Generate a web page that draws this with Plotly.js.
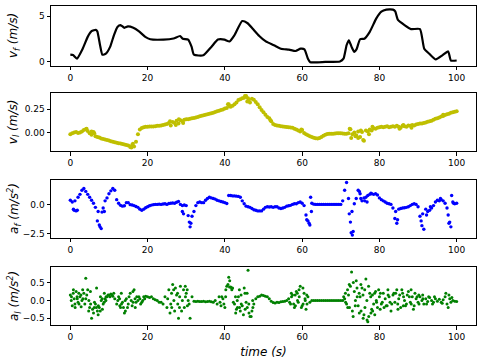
<!DOCTYPE html>
<html>
<head>
<meta charset="utf-8">
<script src="https://cdn.plot.ly/plotly-3.0.1.min.js"></script>
<style>
  body { margin: 0; background: #fff; }
  #chart { width: 485px; height: 361px; }
</style>
</head>
<body>
<div id="chart"></div>
<script>
// forward speed
var vfTime = [0, 0.7, 1.7, 3.2, 4.5, 5.5, 6.6, 7.0, 7.7, 8.3, 9.2, 10.3, 11.3, 12.2, 13.0, 14.0, 14.9, 16.3, 17.7, 19.4,
    20.7, 24.1, 26.7, 28.4, 29.1, 30.5, 31.4, 32.0, 34.4, 36.5, 38.2, 39.9, 41.2, 42.5, 44.5, 45.9, 47.2, 48.9, 50.6, 52.7,
    54.5, 56.6, 58.3, 59.6, 60.6, 61.5, 62.1, 66, 69.8, 70.7, 71.5, 72.1, 72.8, 73.5, 74.1, 75.0, 76.1, 77.5, 79.2, 80.5,
    81.8, 83.5, 84.1, 84.8, 86.5, 88.2, 90.5, 91.6, 92.9, 94.6, 96.3, 97.8, 98.5, 100];
var vfVal = [0.74, 0.7, 0.3, 1.4, 2.7, 3.33, 3.48, 3.3, 1.78, 0.74, 0.85, 1.6, 2.9, 3.8, 4.0, 3.7, 3.85, 3.7, 3.33, 2.7,
    2.44, 2.4, 2.52, 2.8, 2.5, 2.4, 1.6, 0.74, 0.67, 1.6, 2.4, 2.4, 2.2, 2.9, 4.44, 4.2, 3.6, 2.8, 2.2, 1.78,
    1.4, 1.3, 1.15, 1.4, 1.33, 0.3, -0.08, -0.05, 0.0, 0.3, 1.78, 2.33, 1.6, 1.05, 1.35, 2.44, 2.5, 3.26, 4.74, 5.48,
    5.7, 5.7, 5.5, 4.56, 4.0, 3.56, 3.56, 1.4, 0.85, 0.22, 0.67, 1.1, 0.1, 0.1];

// sample times for the scatter panels
var sampleTime = [
    0, 0.5, 1, 1.5, 2, 2.5, 3, 3.5, 4, 4.5, 5, 5.5, 6, 6.5, 7, 7.5, 8, 8.5, 9, 9.5,
    10, 10.5, 11, 11.5, 12, 12.5, 13, 13.5, 14, 14.5, 15, 15.5, 16, 16.5, 17, 17.5, 18, 18.5, 19, 19.5,
    20, 20.5, 21, 21.5, 22, 22.5, 23, 23.5, 24, 24.5, 25, 25.5, 26, 26.5, 27, 27.5, 28, 28.5, 29, 29.5,
    30, 30.5, 31, 31.5, 32, 32.5, 33, 33.5, 34, 34.5, 35, 35.5, 36, 36.5, 37, 37.5, 38, 38.5, 39, 39.5,
    40, 40.5, 41, 41.5, 42, 42.5, 43, 43.5, 44, 44.5, 45, 45.5, 46, 46.5, 47, 47.5, 48, 48.5, 49, 49.5,
    50, 50.5, 51, 51.5, 52, 52.5, 53, 53.5, 54, 54.5, 55, 55.5, 56, 56.5, 57, 57.5, 58, 58.5, 59, 59.5,
    60, 60.5, 61, 61.5, 62, 62.5, 63, 63.5, 64, 64.5, 65, 65.5, 66, 66.5, 67, 67.5, 68, 68.5, 69, 69.5,
    70, 70.5, 71, 71.5, 72, 72.5, 73, 73.5, 74, 74.5, 75, 75.5, 76, 76.5, 77, 77.5, 78, 78.5, 79, 79.5,
    80, 80.5, 81, 81.5, 82, 82.5, 83, 83.5, 84, 84.5, 85, 85.5, 86, 86.5, 87, 87.5, 88, 88.5, 89, 89.5,
    90, 90.5, 91, 91.5, 92, 92.5, 93, 93.5, 94, 94.5, 95, 95.5, 96, 96.5, 97, 97.5, 98, 98.5, 99, 99.5,
    100];

// lateral speed
var vlVal = [
    -0.02, -0.01, 0.0, 0.005, -0.005, 0.0, 0.01, 0.025, 0.035, 0.015,
    -0.01, -0.025, 0.005, -0.04, -0.05, -0.055, -0.065, -0.07, -0.075, -0.082,
    -0.087, -0.093, -0.1, -0.105, -0.11, -0.115, -0.118, -0.125, -0.13, -0.135,
    -0.14, -0.155, -0.135, -0.15, -0.1, -0.02, 0.03, 0.048, 0.055, 0.06,
    0.06, 0.062, 0.063, 0.064, 0.066, 0.07, 0.072, 0.075, 0.08, 0.085,
    0.09, 0.1, 0.075, 0.11, 0.1, 0.125, 0.095, 0.13, 0.12, 0.135,
    0.14, 0.14, 0.145, 0.15, 0.155, 0.16, 0.165, 0.172, 0.178, 0.183,
    0.19, 0.195, 0.2, 0.205, 0.21, 0.218, 0.225, 0.232, 0.24, 0.245,
    0.255, 0.26, 0.3, 0.275, 0.285, 0.3, 0.32, 0.345, 0.355, 0.365,
    0.37, 0.39, 0.365, 0.32, 0.36, 0.35, 0.325, 0.3, 0.27, 0.24,
    0.215, 0.19, 0.165, 0.15, 0.12, 0.09, 0.08, 0.075, 0.07, 0.065,
    0.063, 0.06, 0.058, 0.055, 0.052, 0.05, 0.04, 0.03, 0.02, 0.01,
    0.025, -0.005, -0.02, -0.03, -0.04, -0.05, -0.058, -0.062, -0.065, -0.06,
    -0.05, -0.035, -0.025, -0.018, -0.015, -0.014, -0.013, -0.012, -0.01, -0.009,
    -0.01, -0.012, -0.013, -0.015, -0.01, 0.035, -0.02, 0.0, -0.03, 0.01,
    -0.05, 0.005, -0.09, 0.02, 0.01, 0.03, 0.02, 0.045, 0.04, 0.05,
    0.055, 0.06, 0.055, 0.06, 0.065, 0.055, 0.06, 0.065, 0.06, 0.07,
    0.06, 0.05, 0.07, 0.065, 0.06, 0.075, 0.07, 0.08, 0.075, 0.085,
    0.09, 0.095, 0.095, 0.1, 0.105, 0.115, 0.12, 0.125, 0.135, 0.145,
    0.15, 0.16, 0.17, 0.175, 0.185, 0.195, 0.2, 0.21, 0.215, 0.22,
    0.225];
var vlExtraTime = [4.2, 5.5, 6.2, 15.8, 16.2, 25.8, 27.3, 28.1, 29.2, 40.8, 41.2, 45.2, 45.8, 46.2, 51.8, 59.8,
    72.3, 72.7, 73.8, 74.5, 75.2, 75.8, 77.3, 78.2, 85.2, 86.2, 88.3, 96.5];
var vlExtraVal = [0.04, 0.01, -0.01, -0.16, -0.12, 0.12, 0.08, 0.14, 0.1, 0.3, 0.28, 0.39, 0.33, 0.35, 0.13, 0.03,
    0.04, -0.06, -0.04, -0.06, 0.02, -0.08, -0.02, 0.06, 0.04, 0.08, 0.05, 0.19];

// forward acceleration
var afVal = [
    0.35, 0.2, -0.5, -0.55, 0.6, 0.85, 1.2, 1.35, 1.1, 0.85,
    0.6, 0.35, 0.1, -0.25, -1.4, -1.75, -2.05, -0.3, 0.3, 0.55,
    0.9, 1.15, 1.35, 1.2, 0.4, 0.1, -0.08, -0.15, -0.12, 0.15,
    0.15, -0.02, -0.05, -0.1, -0.18, -0.25, -0.4, -0.5, -0.4, -0.28,
    -0.2, -0.12, -0.06, -0.02, 0.0, 0.0, 0.02, 0.0, 0.03, 0.05,
    0.0, 0.08, 0.1, 0.12, 0.1, 0.18, 0.25, 0.0, -0.1, -0.05,
    -0.1, -0.95, -1.9, -1.0, -0.6, -0.1, 0.15, 0.2, 0.15, 0.15,
    0.35, 0.5, 0.6, 0.55, 0.5, 0.45, 0.35, 0.3, 0.25, 0.2,
    0.15, 0.08, 0.75, 0.75, 0.72, 0.72, 0.7, 0.68, 0.6, 0.3,
    0.05, -0.15, -0.2, -0.25, -0.35, -0.45, -0.5, -0.55, -0.55, -0.55,
    -0.4, -0.25, -0.2, -0.22, -0.2, -0.25, -0.2, -0.2, -0.3, -0.35,
    -0.3, -0.25, -0.15, -0.12, -0.08, 0.0, 0.05, 0.05, 0.15, 0.2,
    0.1, -0.1, -0.9, -1.4, -1.75, 0.1, 0.02, 0.0, 0.0, 0.0,
    0.0, 0.0, 0.0, 0.0, 0.0, 0.0, 0.0, 0.0, 0.0, 0.0,
    0.0, 0.3, 1.2, 1.85, 0.5, -1.5, -2.6, 0.05, 0.5, 1.2,
    0.9, 0.3, 0.55, 0.6, 0.75, 0.85, 0.9, 0.85, 0.9, 0.8,
    0.55, 0.4, 0.3, 0.2, 0.1, 0.05, 0.0, -0.3, -1.2, -1.6,
    -0.4, -0.35, -0.3, -0.28, -0.25, -0.2, -0.1, 0.0, 0.05, 0.0,
    -0.2, -1.0, -1.8, -2.1, -0.4, -0.6, -0.5, -0.3, -0.1, 0.2,
    0.35, 0.3, 0.4, 0.3, 0.1, -0.3, -1.6, -1.9, 0.2, 0.05,
    0.1];
var afExtraTime = [0.8, 1.2, 1.8, 7.2, 7.7, 8.2, 8.8, 29.0, 29.3, 30.8, 31.2, 61.2, 61.8, 62.2, 62.4,
    72.2, 72.7, 72.9, 73.2, 74.8, 75.2, 76.2, 76.8, 77.8, 84.2, 84.7, 90.8, 91.2, 92.2, 93.2, 95.8,
    97.8, 98.2, 98.7, 99.2];
var afExtraVal = [-0.4, 0.3, -0.5, -0.6, -1.9, -0.65, -0.6, -0.6, -0.8, -1.5, -1.6, -1.3, -1.6, 0.6, -0.6,
    -0.8, -2.4, -0.6, -2.3, 1.1, 0.5, 0.3, 0.2, 0.95, -0.6, -1.3, -1.4, -0.8, -0.9, -0.2, 0.5,
    -0.9, -1.5, 0.75, 0.1];

// lateral acceleration
var alVal = [
    0.15, -0.15, 0.05, 0.25, -0.05, 0.1, 0.0, 0.2, 0.05, 0.3,
    -0.2, -0.5, -0.35, -0.1, -0.3, -0.2, 0.0, -0.1, 0.05, 0.1,
    0.15, 0.18, 0.12, 0.05, -0.1, 0.1, -0.2, -0.05, -0.35, 0.05,
    -0.1, 0.2, -0.15, 0.3, -0.05, 0.0, 0.05, -0.05, 0.1, 0.12,
    0.1, 0.08, 0.1, 0.05, 0.02, 0.0, -0.05, -0.05, -0.1, 0.1,
    -0.2, 0.3, -0.1, 0.45, -0.3, 0.15, -0.5, 0.4, 0.0, -0.2,
    0.2, 0.0, -0.5, 0.1, -0.02, -0.03, -0.02, -0.03, -0.03, -0.02,
    -0.04, -0.03, -0.02, -0.04, -0.05, 0.0, -0.1, 0.1, -0.15, 0.05,
    -0.2, 0.4, 0.65, 0.38, 0.35, -0.1, -0.25, 0.1, -0.3, -0.15,
    0.35, -0.05, 0.85, -0.45, -0.3, -0.1, 0.05, 0.1, 0.12, 0.15,
    0.14, 0.12, 0.1, 0.05, -0.02, -0.06, -0.07, -0.05, -0.06, -0.04,
    -0.03, -0.02, 0.0, 0.05, -0.1, 0.15, -0.2, 0.25, -0.05, 0.4,
    -0.15, 0.2, -0.25, 0.1, -0.05, 0.0, 0.0, 0.0, 0.0, 0.0,
    0.0, 0.0, 0.0, 0.0, 0.0, 0.0, 0.0, 0.0, 0.0, 0.0,
    0.0, 0.0, 0.05, -0.1, 0.15, 0.4, -0.3, 0.25, 0.55, -0.15,
    0.1, 0.35, -0.4, 0.6, -0.6, 0.2, -0.25, -0.1, 0.25, -0.2,
    0.1, -0.1, 0.2, 0.05, -0.15, 0.1, -0.3, 0.15, -0.05, 0.3,
    0.05, -0.2, 0.2, 0.0, -0.1, 0.25, -0.05, 0.1, -0.15, 0.05,
    -0.05, 0.1, 0.0, -0.1, 0.05, -0.03, 0.08, 0.0, -0.05, 0.05,
    -0.02, 0.03, -0.05, 0.02, 0.1, -0.1, 0.15, -0.05, 0.0, -0.02,
    -0.03];
var alExtraTime = [0.3, 0.8, 1.2, 1.8, 2.2, 2.8, 3.2, 4.0, 4.8, 5.2, 6.2, 6.8, 7.2, 7.8, 8.3, 8.8, 9.2,
    12.3, 12.8, 13.2, 14.2, 14.8, 15.2, 16.2, 16.8, 17.2, 18.2, 25.2, 25.8, 26.2, 26.8, 27.2, 27.8, 28.3,
    28.8, 29.3, 29.8, 30.3, 39.2, 40.2, 40.8, 41.2, 41.8, 42.2, 42.8, 43.2, 43.8, 44.2, 44.8, 45.2, 45.8,
    46.2, 46.8, 47.2, 57.2, 57.8, 58.2, 58.8, 59.2, 59.8, 60.2, 60.8, 61.2, 71.2, 71.8, 72.2, 72.8, 73.2,
    73.8, 74.2, 74.8, 75.2, 75.8, 76.2, 76.8, 77.2, 77.8, 78.2, 78.8, 79.2, 79.8, 80.2, 81.2, 82.2, 83.2,
    84.2, 84.8, 85.8, 86.2, 87.2, 88.2, 88.8, 89.2, 90.2, 91.2, 92.2, 97.2, 97.8, 98.2];
var alExtraVal = [0.1, 0.3, -0.1, 0.05, 0.2, -0.18, 0.3, 0.62, 0.0, 0.25, -0.2, 0.35, -0.4, 0.1, -0.25, 0.2, 0.0,
    0.0, -0.15, 0.2, 0.0, -0.2, 0.1, 0.25, -0.2, 0.1, -0.1, 0.05, -0.35, 0.2, 0.0, 0.35, -0.1, 0.1,
    -0.3, 0.3, 0.1, -0.15, 0.1, 0.1, 0.45, 0.38, 0.3, -0.05, -0.35, 0.0, -0.2, 0.15, -0.4, 0.2, -0.2,
    -0.1, -0.45, 0.0, 0.2, -0.1, 0.15, 0.0, 0.3, -0.2, 0.35, 0.0, 0.15, 0.2, -0.2, 0.45, 0.8, -0.45,
    0.0, 0.35, -0.35, 0.45, -0.5, 0.3, -0.55, 0.4, -0.35, 0.15, -0.4, 0.0, 0.3, -0.25, -0.2, 0.3, -0.1,
    0.2, -0.25, 0.3, -0.15, 0.15, 0.3, -0.25, 0.2, 0.15, 0.15, -0.1, 0.2, -0.2, 0.05];
var alMoreTime = [0.25, 0.75, 1.25, 1.75, 2.25, 2.75, 3.25, 3.75, 4.25, 4.75, 5.25, 5.75, 6.25, 6.75, 7.25, 7.75,
    8.25, 8.75, 9.25, 9.75, 10.25, 10.75, 11.25, 12.75, 13.25, 13.75, 14.25, 15.75, 16.25, 16.75, 17.75, 18.75,
    19.25, 26.25, 26.75, 27.75, 28.25, 29.75, 30.25, 30.75, 38.75, 39.75, 40.25, 41.25, 41.75, 42.75, 43.25,
    43.75, 44.25, 45.25, 45.75, 46.25, 47.25, 56.75, 57.25, 58.25, 58.75, 59.25, 60.25, 60.75, 61.25, 70.75,
    71.25, 71.75, 72.25, 73.25, 73.75, 74.25, 74.75, 75.25, 75.75, 76.25, 76.75, 77.25, 77.75, 78.25, 78.75,
    79.25, 80.25, 80.75, 81.75, 82.25, 82.75, 83.75, 84.75, 85.25, 86.25, 86.75, 87.75, 88.25, 89.75, 90.25,
    91.25, 92.75, 93.75, 94.25, 96.25, 98.75];
var alMoreVal = [0.0, 0.2, -0.2, 0.1, -0.1, 0.15, 0.05, -0.1, 0.15, -0.3, -0.1, -0.25, -0.05, -0.2, -0.15, -0.3,
    0.05, -0.05, 0.1, 0.15, 0.1, 0.15, 0.2, 0.05, -0.1, -0.2, -0.3, 0.0, -0.05, 0.05, 0.1, 0.0,
    0.05, -0.2, 0.3, 0.2, -0.2, 0.4, 0.3, -0.1, -0.05, -0.1, 0.3, 0.55, 0.35, 0.1, -0.2,
    0.3, -0.1, -0.25, 0.2, -0.35, -0.2, -0.05, 0.1, -0.15, 0.2, 0.1, -0.1, 0.05, -0.1, 0.1,
    -0.05, 0.3, -0.2, 0.5, -0.15, 0.1, 0.2, -0.3, 0.15, -0.2, 0.0, -0.45, 0.1, -0.3, 0.2,
    -0.05, 0.2, -0.05, -0.15, 0.15, -0.05, 0.2, -0.1, 0.15, 0.1, -0.15, 0.1, -0.1, 0.1, -0.1,
    0.05, 0.1, -0.1, 0.1, -0.08, 0.08];

var yLabels = ['<i>v<sub>f</sub> (m/s)</i>', '<i>v<sub>l</sub> (m/s)</i>',
    '<i>a<sub>f</sub> (m/s<sup>2</sup>)</i>', '<i>a<sub>l</sub> (m/s<sup>2</sup>)</i>'];

var domains = [[0.812, 1.0], [0.545, 0.727], [0.273, 0.455], [0.0, 0.182]];

var trace1 = {
    x: vfTime, y: vfVal,
    xaxis: 'x', yaxis: 'y',
    mode: 'lines',
    line: {color: '#000000', width: 2.2, shape: 'spline', smoothing: 0.5},
    hoverinfo: 'skip'
};
var trace2 = {
    x: sampleTime.concat(vlExtraTime), y: vlVal.concat(vlExtraVal),
    xaxis: 'x2', yaxis: 'y2',
    mode: 'markers',
    marker: {color: '#bfbf00', size: 4}
};
var trace3 = {
    x: sampleTime.concat(afExtraTime), y: afVal.concat(afExtraVal),
    xaxis: 'x3', yaxis: 'y3',
    mode: 'markers',
    marker: {color: '#0000ff', size: 3.4}
};
var trace4 = {
    x: sampleTime.concat(alExtraTime, alMoreTime), y: alVal.concat(alExtraVal, alMoreVal),
    xaxis: 'x4', yaxis: 'y4',
    mode: 'markers',
    marker: {color: '#008000', size: 3}
};

function xAxis(anchor) {
    return {
        anchor: anchor,
        domain: [0, 1],
        range: [-5, 105],
        tickvals: [0, 20, 40, 60, 80, 100],
        showline: true, mirror: true, linecolor: '#000', linewidth: 1,
        ticks: 'outside', ticklen: 3.5, tickwidth: 0.8, tickcolor: '#000',
        showgrid: false, zeroline: false,
        tickfont: {family: 'DejaVu Sans', size: 9, color: '#000'}
    };
}
function yAxis(anchor, domain, range, tickvals, fmt) {
    return {
        anchor: anchor,
        domain: domain,
        range: range,
        tickvals: tickvals,
        tickformat: fmt,
        showline: true, mirror: true, linecolor: '#000', linewidth: 1,
        ticks: 'outside', ticklen: 3.5, tickwidth: 0.8, tickcolor: '#000',
        showgrid: false, zeroline: false,
        tickfont: {family: 'DejaVu Sans', size: 9, color: '#000'}
    };
}

var layout = {
    width: 485, height: 361,
    margin: {l: 51, r: 9, t: 6, b: 36},
    paper_bgcolor: '#fff', plot_bgcolor: '#fff',
    showlegend: false,
    hovermode: false,
    xaxis: xAxis('y'),
    xaxis2: xAxis('y2'),
    xaxis3: xAxis('y3'),
    xaxis4: xAxis('y4'),
    yaxis: yAxis('x', domains[0], [-0.5, 6.1], [0, 5], 'd'),
    yaxis2: yAxis('x2', domains[1], [-0.2, 0.42], [0, 0.25], '.2f'),
    yaxis3: yAxis('x3', domains[2], [-2.84, 2.08], [-2.5, 0], '.1f'),
    yaxis4: yAxis('x4', domains[3], [-0.69, 0.94], [-0.5, 0, 0.5], '.1f'),
    annotations: []
};
layout.xaxis4.title = {text: '<i>time (s)</i>', font: {family: 'DejaVu Sans', size: 12, color: '#000'}, standoff: 6};

for (var i = 0; i < 4; i++) {
    layout.annotations.push({
        text: yLabels[i],
        xref: 'paper', yref: 'paper',
        x: -0.087, y: (domains[i][0] + domains[i][1]) / 2,
        xanchor: 'center', yanchor: 'middle',
        textangle: -90,
        showarrow: false,
        font: {family: 'DejaVu Sans', size: 12, color: '#000'}
    });
}

Plotly.newPlot('chart', [trace1, trace2, trace3, trace4], layout, {displayModeBar: false});
</script>
</body>
</html>
